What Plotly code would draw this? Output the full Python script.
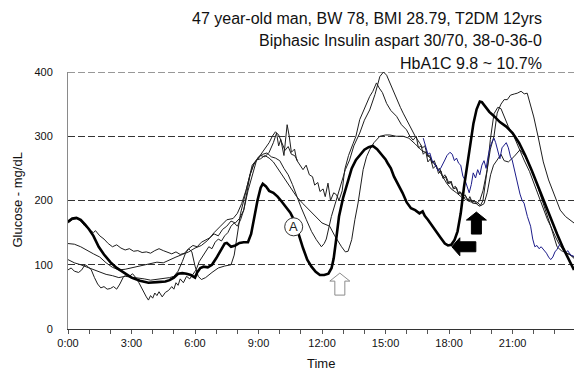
import plotly.graph_objects as go

# ---------------- data (hours of day, glucose mg/dL) ----------------
thick_h = [0, 0.2, 0.4, 0.6, 0.8, 1.0, 1.2, 1.45, 1.7, 2.0, 2.3, 2.6, 3.0, 3.4, 3.8, 4.2, 4.6, 4.8, 5.0, 5.2,
           5.4, 5.6, 5.8, 6.0, 6.1, 6.25, 6.4, 6.6, 6.8, 7.0, 7.2, 7.4, 7.5, 7.7, 7.9, 8.1, 8.3, 8.5, 8.65, 8.8,
           8.95, 9.1, 9.2, 9.35, 9.5, 9.7, 9.9, 10.1, 10.3, 10.5, 10.7, 10.9, 11.1, 11.3, 11.5, 11.7, 11.9, 12.1,
           12.3, 12.45, 12.55, 12.65, 12.8, 13.0, 13.2, 13.4, 13.6, 13.8, 14.0, 14.2, 14.4, 14.6, 14.8, 15.0,
           15.1, 15.25, 15.4, 15.6, 15.8, 16.0, 16.2, 16.4, 16.6, 16.75, 16.85, 17.0, 17.2, 17.4, 17.6, 17.8,
           17.95, 18.1, 18.25, 18.4, 18.55, 18.7, 18.85, 19.0, 19.15, 19.3, 19.45, 19.55, 19.7, 19.9, 20.1,
           20.4, 20.7, 21.0, 21.3, 21.6, 21.9, 22.2, 22.5, 22.8, 23.1, 23.4, 23.7, 23.9]
thick_v = [167, 172, 173, 170, 163, 155, 145, 128, 116, 104, 95, 88, 80, 75, 72, 73, 74, 76, 80, 86,
           87, 86, 84, 80, 88, 95, 97, 96, 100, 110, 122, 133, 134, 128, 130, 134, 135, 135, 148, 175,
           200, 220, 226, 222, 215, 212, 206, 198, 190, 181, 168, 145, 126, 108, 97, 89, 84, 84,
           86, 95, 110, 135, 175, 205, 228, 250, 263, 272, 279, 283, 285, 280, 272, 264,
           258, 250, 237, 225, 212, 197, 188, 185, 180, 183, 176, 170, 160, 152, 142, 133,
           130, 131, 138, 152, 180, 220, 255, 290, 320, 342, 354, 353, 346, 338, 332,
           322, 315, 305, 290, 270, 247, 222, 197, 170, 148, 125, 105, 92]

thin1_h = [0, 0.2, 0.4, 0.6, 0.8, 1.0, 1.2, 1.3, 1.5, 1.7, 1.9, 2.1, 2.3, 2.5, 2.7, 2.9, 3.1, 3.3, 3.5, 3.7,
           3.9, 4.1, 4.3, 4.5, 4.7, 4.9, 5.1, 5.3, 5.5, 5.7, 5.9, 6.1, 6.3, 6.5, 6.7, 6.9, 7.1, 7.3, 7.5, 7.7,
           7.9, 8.1, 8.3, 8.5, 8.7, 8.9, 9.1, 9.3, 9.5, 9.7, 9.85, 9.95, 10.05, 10.2, 10.35, 10.45, 10.55, 10.7,
           10.8, 10.95, 11.1, 11.25, 11.4, 11.55, 11.65, 11.8, 11.9, 12.05, 12.15, 12.28, 12.4, 12.55, 12.68,
           12.8, 12.95, 13.07, 13.25, 13.47, 13.6, 13.78, 13.95, 14.1, 14.25, 14.4, 14.57, 14.7, 14.85, 15.05,
           15.25, 15.52, 15.75, 15.99, 16.15, 16.3, 16.45, 16.55, 16.68, 16.78, 16.9, 17.0, 17.12, 17.25,
           17.4, 17.5, 17.62, 17.72, 17.85, 18.0, 18.1, 18.2, 18.35, 18.45, 18.55, 18.67, 18.8, 18.9, 19.0,
           19.1, 19.3, 19.45, 19.6, 19.8, 19.95, 20.12, 20.3, 20.45, 20.6, 20.8,
           21.06, 21.3, 21.54, 21.8, 22.0, 22.25, 22.48, 22.65, 22.8, 22.95, 23.1, 23.3, 23.5, 23.7, 23.9]
thin1_v = [165, 170, 172, 168, 160, 155, 150, 153, 145, 140, 133, 128, 131, 126, 123, 125, 121, 122, 119, 120,
           118, 122, 125, 122, 119, 117, 120, 116, 118, 125, 130, 128, 135, 138, 142, 148, 145, 155, 160, 168,
           165, 172, 185, 215, 240, 262, 270, 268, 275, 290, 305, 285, 295, 270, 318, 300, 275, 280,
           263, 255, 248, 255, 240, 237, 224, 228, 214, 218, 206, 227, 200, 212, 209,
           200, 215, 248, 270, 289, 300, 326, 340, 351, 362, 370, 383, 375, 368, 351,
           340, 331, 318, 310, 300, 294, 300, 282, 285, 272, 276, 260, 265, 250,
           255, 242, 246, 234, 238, 226, 230, 218, 220, 210, 213, 204, 206, 199, 202,
           196, 195, 200, 215, 248, 295, 335, 345, 343, 330, 315,
           300, 280, 263, 245, 227, 205, 185, 170, 160, 145, 128, 122, 119, 116, 110]

thin2_h = [0, 0.3, 0.6, 0.9, 1.2, 1.5, 1.8, 2.1, 2.4, 2.7, 3.0, 3.3, 3.6, 3.9, 4.2, 4.5, 4.8, 5.1, 5.4, 5.7,
           6.0, 6.3, 6.6, 6.9, 7.2, 7.5, 7.8, 8.0, 8.2, 8.4, 8.6, 8.8, 9.0, 9.2, 9.4, 9.6, 9.8, 10.0, 10.2,
           10.4, 10.6, 10.8, 11.0, 11.26, 11.5, 11.73, 11.97, 12.1, 12.2, 12.44, 12.7, 12.92, 13.1, 13.3, 13.5,
           13.78, 14.0, 14.25, 14.5, 14.73, 14.9, 15.05, 15.2, 15.35, 15.52, 15.7, 15.83, 16.0, 16.15, 16.4,
           16.62, 16.75, 16.85, 17.0, 17.09, 17.2, 17.3, 17.45, 17.56, 17.7, 17.8, 17.95, 18.04, 18.2, 18.3,
           18.45, 18.5, 18.65, 18.75, 18.9, 18.98, 19.1, 19.2, 19.35, 19.46, 19.6, 19.8,
           19.95, 20.12, 20.27, 20.45, 20.6, 20.75, 20.9, 21.1, 21.22, 21.4, 21.55, 21.69, 21.8, 22.0, 22.2,
           22.45, 22.7, 23.0, 23.25, 23.5, 23.7, 23.9]
thin2_v = [133, 132, 128, 122, 117, 112, 103, 96, 92, 93, 95, 98, 100, 102, 104, 103, 108, 112, 116, 120,
           126, 130, 138, 150, 160, 170, 172, 180, 195, 215, 240, 258, 268, 272, 274, 268, 266, 262, 250,
           240, 225, 206, 190, 170, 152, 139, 128, 133, 140, 175, 205, 227, 248, 263, 285,
           305, 325, 341, 365, 393, 400, 395, 383, 370, 357, 345, 336, 325, 315, 300,
           289, 282, 285, 268, 270, 258, 262, 248, 250, 236, 240, 226, 230, 220, 222,
           210, 214, 205, 209, 200, 206, 197, 200, 193, 191, 200, 248,
           280, 300, 336, 350, 357, 357, 364, 366, 367, 370, 366, 367, 355, 330, 300,
           260, 232, 205, 185, 175, 170, 165]

thin3_h = [0, 0.3, 0.6, 0.9, 1.2, 1.5, 1.8, 2.1, 2.4, 2.7, 3.0, 3.3, 3.6, 3.9, 4.2, 4.5, 4.8, 5.0, 5.2, 5.4,
           5.55, 5.7, 5.85, 6.0, 6.15, 6.3, 6.5, 6.8, 7.1, 7.4, 7.7, 7.85, 8.0, 8.15, 8.3, 8.5, 8.7, 8.9, 9.1,
           9.3, 9.5, 9.7, 9.9, 10.1, 10.3, 10.5, 10.8, 11.1, 11.4, 11.7, 12.0, 12.36, 12.6, 12.92, 13.1, 13.23,
           13.4, 13.55, 13.7, 13.94, 14.1, 14.25, 14.45, 14.73, 15.0, 15.2, 15.5, 15.83, 16.1, 16.4, 16.7,
           16.94, 17.2, 17.4, 17.65, 17.88, 18.1, 18.35, 18.6, 18.83, 19.0, 19.3, 19.5, 19.65, 19.8, 19.96,
           20.1, 20.27, 20.45, 20.6, 20.8, 21.06, 21.35, 21.6, 21.8, 22.0, 22.2, 22.4, 22.6, 22.8, 23.0, 23.2,
           23.45, 23.7, 23.9]
thin3_v = [108, 103, 100, 96, 92, 88, 85, 83, 80, 82, 81, 80, 78, 76, 77, 78, 80, 82, 90, 105,
           118, 125, 120, 98, 82, 77, 80, 88, 95, 98, 100, 115, 150, 180, 200, 230, 255, 263, 265,
           270, 266, 260, 250, 240, 230, 222, 206, 195, 185, 175, 165, 160, 145, 128, 120, 121,
           139, 170, 196, 248, 268, 279, 290, 300, 302, 302, 300, 300, 297, 288, 278,
           274, 262, 253, 240, 227, 218, 212, 205, 201, 198, 198, 192, 195, 212, 240,
           255, 263, 272, 262, 260, 268, 279, 268, 255, 240, 220, 200, 180, 160, 145, 132,
           120, 115, 112]

thin4_h = [0, 0.15, 0.3, 0.5, 0.65, 0.8, 0.95, 1.1, 1.25, 1.4, 1.55, 1.7, 1.85, 2.0, 2.15, 2.3, 2.45, 2.6,
           2.75, 2.9, 3.05, 3.2, 3.35, 3.5, 3.6, 3.7, 3.8, 3.9, 4.0, 4.1, 4.2, 4.3, 4.45, 4.6, 4.75, 4.9, 5.0,
           5.1, 5.2, 5.3, 5.45, 5.6, 5.75, 5.9, 6.05, 6.2, 6.35, 6.5, 6.65, 6.8, 6.95, 7.1, 7.25, 7.4, 7.55,
           7.7, 7.85, 8.0, 8.15, 8.3, 8.45, 8.6, 8.75, 8.9, 9.05, 9.2, 9.35, 9.5, 9.65, 9.8, 9.95, 10.1, 10.25,
           10.4, 10.55, 10.7, 10.85]
thin4_v = [92, 95, 90, 88, 92, 100, 97, 92, 80, 70, 64, 66, 62, 63, 66, 62, 70, 80,
           85, 82, 86, 80, 72, 62, 55, 50, 45, 52, 48, 56, 52, 58, 50, 57, 60, 66, 62,
           72, 68, 78, 72, 82, 78, 85, 92, 105, 112, 120, 128, 125, 135, 140, 137, 145, 150,
           160, 165, 160, 170, 185, 210, 240, 255, 262, 270, 275, 282, 290, 300, 307, 302, 290, 278,
           284, 272, 270, 262]

blue_h = [16.78, 16.9, 17.0, 17.09, 17.2, 17.3, 17.4, 17.5, 17.6, 17.7, 17.8, 17.9, 18.04, 18.15, 18.25,
          18.35, 18.45, 18.55, 18.65, 18.75, 18.85, 18.95, 19.05, 19.14, 19.25, 19.35, 19.45, 19.55, 19.65,
          19.75, 19.85, 19.95, 20.04, 20.12, 20.2, 20.3, 20.4, 20.5, 20.6, 20.7, 20.8, 20.9, 20.98, 21.1,
          21.22, 21.35, 21.45, 21.54, 21.7, 21.85, 21.95, 22.05, 22.15, 22.25, 22.35, 22.48, 22.6, 22.7,
          22.8, 22.9, 23.0, 23.1, 23.2, 23.27, 23.38, 23.5, 23.6, 23.75, 23.9]
blue_v = [297, 285, 272, 274, 262, 258, 253, 246, 250, 258, 263, 270, 275, 272, 262,
          266, 258, 255, 238, 232, 222, 212, 225, 243, 235, 248, 240, 255, 262,
          250, 270, 285, 292, 297, 290, 275, 265, 282, 287, 290, 282, 268, 263, 245,
          232, 210, 200, 196, 175, 160, 140, 128, 130, 125, 128, 123, 118, 112,
          108, 112, 120, 124, 130, 134, 125, 118, 122, 115, 113]

x_tick_vals = list(range(24))
x_tick_text = [f"{h}:00" if h % 3 == 0 else "" for h in x_tick_vals]
y_tick_vals = [0, 100, 200, 300, 400]

title_lines = ["47 year-old man, BW 78, BMI 28.79, T2DM 12yrs",
               "Biphasic Insulin aspart 30/70, 38-0-36-0",
               "HbA1C 9.8 ~ 10.7%"]

FONT = "Liberation Sans, Arial, sans-serif"

fig = go.Figure()
thin_color = "#1e1e1e"
for hh, vv in [(thin4_h, thin4_v), (thin3_h, thin3_v), (thin2_h, thin2_v), (thin1_h, thin1_v)]:
    fig.add_trace(go.Scatter(x=hh, y=vv, mode="lines", line=dict(color=thin_color, width=1),
                             showlegend=False, hoverinfo="skip"))
fig.add_trace(go.Scatter(x=blue_h, y=blue_v, mode="lines", line=dict(color="#1c1c8a", width=1),
                         showlegend=False, hoverinfo="skip"))
fig.add_trace(go.Scatter(x=thick_h, y=thick_v, mode="lines", line=dict(color="#000000", width=2.6),
                         showlegend=False, hoverinfo="skip"))

# decorations: arrows and circled label (anchored in data space, drawn in pixels)
up_arrow = "M0,0 L10,-8 L5,-8 L5,-22 L-5,-22 L-5,-8 L-10,-8 Z"
left_arrow = "M0,0 L8,9 L8,5 L24,5 L24,-5 L8,-5 L8,-9 Z"
shapes = [
    # top boundary gridline at 400 (plotly omits the gridline at the range edge)
    dict(type="line", xref="paper", yref="y", x0=0, x1=1, y0=400, y1=400,
         line=dict(color="#333", width=1, dash="7px,3px"), layer="below"),
    dict(type="path", xref="x", yref="y", xsizemode="pixel", ysizemode="pixel",
         xanchor=12.84, yanchor=87.0, path=up_arrow, fillcolor="white",
         line=dict(color="#8c8c8c", width=1)),
    dict(type="path", xref="x", yref="y", xsizemode="pixel", ysizemode="pixel",
         xanchor=19.29, yanchor=182.0, path=up_arrow, fillcolor="black",
         line=dict(color="black", width=1)),
    dict(type="path", xref="x", yref="y", xsizemode="pixel", ysizemode="pixel",
         xanchor=18.13, yanchor=128.0, path=left_arrow, fillcolor="black",
         line=dict(color="black", width=1)),
    dict(type="circle", xref="x", yref="y", xsizemode="pixel", ysizemode="pixel",
         xanchor=10.66, yanchor=159.0, x0=-9, x1=9, y0=-9, y1=9, fillcolor="white",
         line=dict(color="#333", width=1)),
]

annotations = [
    dict(x=10.66, y=159.0, xref="x", yref="y", text="A", showarrow=False,
         font=dict(family=FONT, size=13, color="#222")),
]
for i, (t, ypx) in enumerate(zip(title_lines, [18, 40.5, 63])):
    annotations.append(dict(x=(544 - 68) / 506, y=(329.3 - ypx) / 257.3, xref="paper", yref="paper",
                            text=t, showarrow=False, xanchor="right", yanchor="middle",
                            font=dict(family=FONT, size=16, color="#111")))
annotations.append(dict(x=(17 - 68) / 506, y=0.5, xref="paper", yref="paper", text="Glucose - mg/dL",
                        textangle=-90, showarrow=False, xanchor="center", yanchor="middle",
                        font=dict(family=FONT, size=13, color="#111")))
annotations.append(dict(x=0.5, y=(329.3 - 364) / 257.3, xref="paper", yref="paper", text="Time",
                        showarrow=False, xanchor="center", yanchor="middle",
                        font=dict(family=FONT, size=13, color="#111")))

fig.update_layout(
    width=574, height=375,
    margin=dict(l=68, r=0, t=72, b=46),
    paper_bgcolor="white", plot_bgcolor="white",
    shapes=shapes, annotations=annotations,
    xaxis=dict(range=[0, 23.9], showline=True, linecolor="#333", linewidth=1.3,
               ticks="outside", ticklen=4, tickcolor="#555", tickwidth=1,
               tickvals=x_tick_vals, ticktext=x_tick_text, showgrid=False, zeroline=False,
               tickfont=dict(family=FONT, size=11, color="#111")),
    yaxis=dict(range=[0, 400], showline=True, linecolor="#8a8a8a", linewidth=1,
               ticks="", tickvals=y_tick_vals, showgrid=True, gridcolor="#333",
               griddash="7px,3px", gridwidth=1, zeroline=False, ticklabelstandoff=12,
               tickfont=dict(family=FONT, size=11, color="#111")),
)

fig.write_html("out.html")
